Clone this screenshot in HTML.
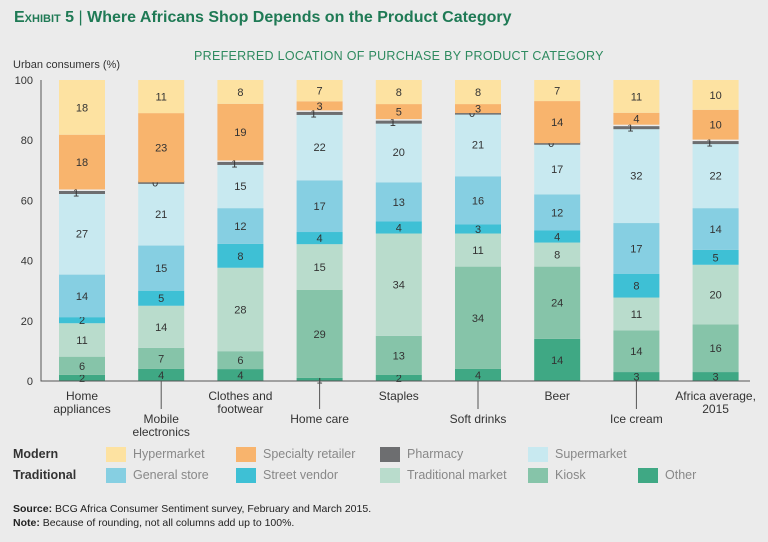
<!DOCTYPE html>
<html><head><meta charset="utf-8">
<style>
body{margin:0;background:#ebebeb;font-family:"Liberation Sans",sans-serif;}
#wrap{position:relative;width:768px;height:542px;background:#ebebeb;overflow:hidden;}
.t{position:absolute;white-space:nowrap;}
</style></head><body>
<div id="wrap">
<div class="t" style="left:14px;top:9px;font-size:16px;font-weight:bold;color:#1f7a55;"><span style="font-variant:small-caps;">Exhibit 5</span> <span style="font-weight:normal;color:#1f7a55">|</span> Where Africans Shop Depends on the Product Category</div>
<div class="t" style="left:194px;top:49px;font-size:12.5px;color:#2e8a5f;letter-spacing:0.3px;">PREFERRED LOCATION OF PURCHASE BY PRODUCT CATEGORY</div>
<div class="t" style="left:13px;top:59px;font-size:11px;color:#333;">Urban consumers (%)</div>
<svg id="chart" width="768" height="542" style="position:absolute;left:0;top:0"></svg>
<div class="t" style="left:13px;top:503px;font-size:10.5px;color:#222;"><b>Source:</b> BCG Africa Consumer Sentiment survey, February and March 2015.</div>
<div class="t" style="left:13px;top:517px;font-size:10.5px;color:#222;"><b>Note:</b> Because of rounding, not all columns add up to 100%.</div>
</div>
<script>
const categories=["Home|appliances","Mobile|electronics","Clothes and|footwear","Home care","Staples","Soft drinks","Beer","Ice cream","Africa average,|2015"];
const seriesNames=["Other","Kiosk","Traditional market","Street vendor","General store","Supermarket","Pharmacy","Specialty retailer","Hypermarket"];
const other=[2,4,4,1,2,4,14,3,3];
const kiosk=[6,7,6,29,13,34,24,14,16];
const tradMarket=[11,14,28,15,34,11,8,11,20];
const streetVendor=[2,5,8,4,4,3,4,8,5];
const generalStore=[14,15,12,17,13,16,12,17,14];
const supermarket=[27,21,15,22,20,21,17,32,22];
const pharmacy=[1,0,1,1,1,0,0,1,1];
const specialty=[18,23,19,3,5,3,14,4,10];
const hypermarket=[18,11,8,7,8,8,7,11,10];
const yTicks=[0,20,40,60,80,100];
const series=[other,kiosk,tradMarket,streetVendor,generalStore,supermarket,pharmacy,specialty,hypermarket];
const colors=["#3fa884","#86c4a9","#b9dccc","#3ec0d5","#86cfe2","#c8e9f0","#6d6e70","#f8b46d","#fde2a1"];
const svg=document.getElementById('chart');const NS="http://www.w3.org/2000/svg";
const y0=381,y1=80,x0=82,step=79.2,bw=46;
const y=v=>y0-(v/100)*(y0-y1);
const x=i=>x0+i*step;
function el(tag,attrs,txt){const e=document.createElementNS(NS,tag);for(const k in attrs)e.setAttribute(k,attrs[k]);if(txt!==undefined)e.textContent=txt;svg.appendChild(e);return e;}
yTicks.forEach(t=>{const e=el('text',{x:33,y:y(t)+4,'text-anchor':'end','font-size':11,fill:'#333'},t);

});
categories.forEach((c,i)=>{let cum=0;
const total=series.reduce((a,s)=>a+s[i],0);const sc=100/total;
series.forEach((s,k)=>{const v=s[i];const top=cum+v*sc;
let ya=y(top),yb=y(cum);
if(k===6){ya=y(cum)-1.5;yb=y(cum)+1.5;}
const r=el('rect',{x:x(i)-bw/2,y:ya,width:bw,height:Math.max(0,yb-ya),fill:colors[k]});


const lab=el('text',{x:x(i)-(k===6?6:0),y:k===6?y(cum)+4:(y(cum)+y(top))/2+4,'text-anchor':'middle','font-size':11,fill:'#333'},v);


cum=top;});
const lines=c.split('|');const low=i%2===1;
if(low){const tl=el('line',{x1:x(i),x2:x(i),y1:381,y2:409,stroke:'#555','stroke-width':1});

}
lines.forEach((l,j)=>{const t=el('text',{x:x(i),y:(low?423:400)+j*13,'text-anchor':'middle','font-size':12,fill:'#333'},l);

});
});
const ax=el('path',{d:'M41 80 L41 381 L750 381',stroke:'#555',fill:'none','stroke-width':1});


[["Modern",454],["Traditional",475]].forEach(r=>{const t=el('text',{x:13,y:r[1]+4,'font-size':12.5,'font-weight':'bold',fill:'#333'},r[0]);

});
const leg=[[8,0,0],[7,1,0],[6,2,0],[5,3,0],[4,0,1],[3,1,1],[2,2,1],[1,3,1],[0,3.75,1]];
const lx=[106,236,380,528];
leg.forEach(([k,c,rr])=>{let xx=c===3.75?638:lx[c];const yy=rr?475:454;
const sw=el('rect',{x:xx,y:yy-7,width:20,height:15,fill:colors[k]});


const t=el('text',{x:xx+27,y:yy+4,'font-size':12.5,fill:'#888'},seriesNames[k]);

});
</script>
</body></html>
